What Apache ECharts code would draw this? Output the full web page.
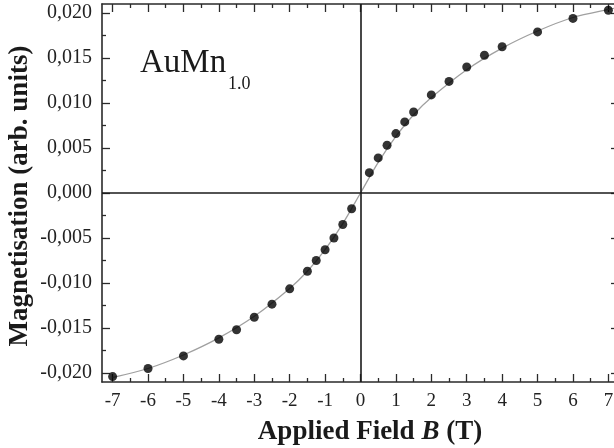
<!DOCTYPE html>
<html>
<head>
<meta charset="utf-8">
<script src="https://cdn.jsdelivr.net/npm/echarts@6/dist/echarts.min.js"></script>
<style>
  html, body { margin: 0; padding: 0; background: #fff; }
  #chart { width: 614px; height: 448px; }
</style>
</head>
<body>
<div id="chart"></div>
<script>
// Measured magnetisation of AuMn1.0 versus applied field
const fieldB = [-7, -6, -5, -4, -3.5, -3, -2.5, -2, -1.5, -1.25, -1, -0.75, -0.5, -0.25,
                0.25, 0.5, 0.75, 1, 1.25, 1.5, 2, 2.5, 3, 3.5, 4, 5, 6, 7];
const magnetisation = [-0.0204, -0.0195, -0.0181, -0.01625, -0.0152, -0.0138, -0.01235, -0.01065,
                       -0.0087, -0.0075, -0.0063, -0.0050, -0.0035, -0.00175,
                       0.00226, 0.0039, 0.0053, 0.0066, 0.0079, 0.0090, 0.0109, 0.0124,
                       0.0140, 0.0153, 0.01625, 0.0179, 0.0194, 0.0203];

// Fitted curve
const fitB = [-7, -6, -5, -4, -3, -2, -1.5, -1, -0.5, 0, 0.5, 1, 1.5, 2, 3, 4, 5, 6, 7, 7.3];
const fitM = [-0.0205, -0.0195, -0.0180, -0.0161, -0.0137, -0.0106, -0.0087, -0.0063, -0.0034, 0,
              0.0034, 0.0063, 0.0087, 0.0106, 0.0137, 0.0161, 0.0180, 0.0195, 0.0204, 0.0206];

// Tick positions
const xMajorTicks = [-7, -6, -5, -4, -3, -2, -1, 0, 1, 2, 3, 4, 5, 6, 7];
const xMinorTicks = [-6.5, -5.5, -4.5, -3.5, -2.5, -1.5, -0.5, 0.5, 1.5, 2.5, 3.5, 4.5, 5.5, 6.5];
const yMajorTicks = [-0.020, -0.015, -0.010, -0.005, 0, 0.005, 0.010, 0.015, 0.020];
const yMinorTicks = [-0.0175, -0.0125, -0.0075, -0.0025, 0.0025, 0.0075, 0.0125, 0.0175];

const X_MIN = -7.3, X_MAX = 7.3, Y_MIN = -0.021, Y_MAX = 0.021;
const FRAME = '#2a2a2a';
const SERIF = '"Liberation Serif", "Times New Roman", serif';

const chart = echarts.init(document.getElementById('chart'));

function xAx(position, ticks, len, showLine, showLabel) {
  return {
    type: 'value', position: position, min: X_MIN, max: X_MAX,
    axisLine: { show: showLine, onZero: false, lineStyle: { color: FRAME, width: 1.6 } },
    axisTick: { show: true, inside: true, length: len, customValues: ticks,
                lineStyle: { color: FRAME, width: 1.3 } },
    axisLabel: { show: showLabel, customValues: ticks, margin: 10,
                 fontFamily: SERIF, fontSize: 19, color: '#222' },
    splitLine: { show: false }
  };
}
function yAx(position, ticks, len, showLine, showLabel) {
  return {
    type: 'value', position: position, min: Y_MIN, max: Y_MAX,
    axisLine: { show: showLine, onZero: false, lineStyle: { color: FRAME, width: 1.6 } },
    axisTick: { show: true, inside: true, length: len, customValues: ticks,
                lineStyle: { color: FRAME, width: 1.3 } },
    axisLabel: { show: showLabel, customValues: ticks, margin: 10,
                 fontFamily: SERIF, fontSize: 20, color: '#222',
                 formatter: v => v.toFixed(3).replace('.', ',') },
    splitLine: { show: false }
  };
}

const fitData = fitB.map((b, i) => [b, fitM[i]]);
const pointData = fieldB.map((b, i) => [b, magnetisation[i]]);

chart.setOption({
  animation: false,
  backgroundColor: '#fff',
  grid: { left: 102, top: 4, width: 517, height: 378, outerBoundsMode: 'none' },
  xAxis: [
    xAx('bottom', xMajorTicks, 8, true, true),
    xAx('bottom', xMinorTicks, 4, false, false),
    xAx('top', xMajorTicks, 8, true, false),
    xAx('top', xMinorTicks, 4, false, false)
  ],
  yAxis: [
    yAx('left', yMajorTicks, 8, true, true),
    yAx('left', yMinorTicks, 4, false, false),
    yAx('right', yMajorTicks, 8, true, false),
    yAx('right', yMinorTicks, 4, false, false)
  ],
  series: [
    {
      type: 'line', data: fitData, smooth: 0.3, showSymbol: false,
      lineStyle: { color: '#a0a0a0', width: 1.3 }, z: 2,
      markLine: {
        silent: true, symbol: 'none', label: { show: false },
        lineStyle: { color: '#1a1a1a', width: 1.6, type: 'solid' },
        data: [{ xAxis: 0 }, { yAxis: 0 }]
      }
    },
    {
      type: 'scatter', data: pointData, symbol: 'circle', symbolSize: 9,
      itemStyle: { color: '#000' }, z: 3
    }
  ],
  graphic: [
    {
      type: 'text', left: 140, top: 47,
      style: { text: 'AuMn', fontFamily: SERIF, fontSize: 33, fill: '#1a1a1a' }
    },
    {
      type: 'text', left: 228, top: 75,
      style: { text: '1.0', fontFamily: SERIF, fontSize: 18, fill: '#1a1a1a' }
    },
    {
      type: 'text', x: 370, y: 432,
      style: {
        text: '{a|Applied Field }{b|B}{a| (T)}',
        align: 'center', verticalAlign: 'middle',
        rich: {
          a: { fontFamily: SERIF, fontSize: 27, fontWeight: 'bold', fill: '#1a1a1a' },
          b: { fontFamily: SERIF, fontSize: 27, fontWeight: 'bold', fontStyle: 'italic', fill: '#1a1a1a' }
        }
      }
    },
    {
      type: 'text', x: 20, y: 196, rotation: Math.PI / 2,
      style: {
        text: 'Magnetisation (arb. units)', align: 'center', verticalAlign: 'middle',
        fontFamily: SERIF, fontSize: 27, fontWeight: 'bold', fill: '#1a1a1a'
      }
    }
  ]
});
</script>
</body>
</html>
